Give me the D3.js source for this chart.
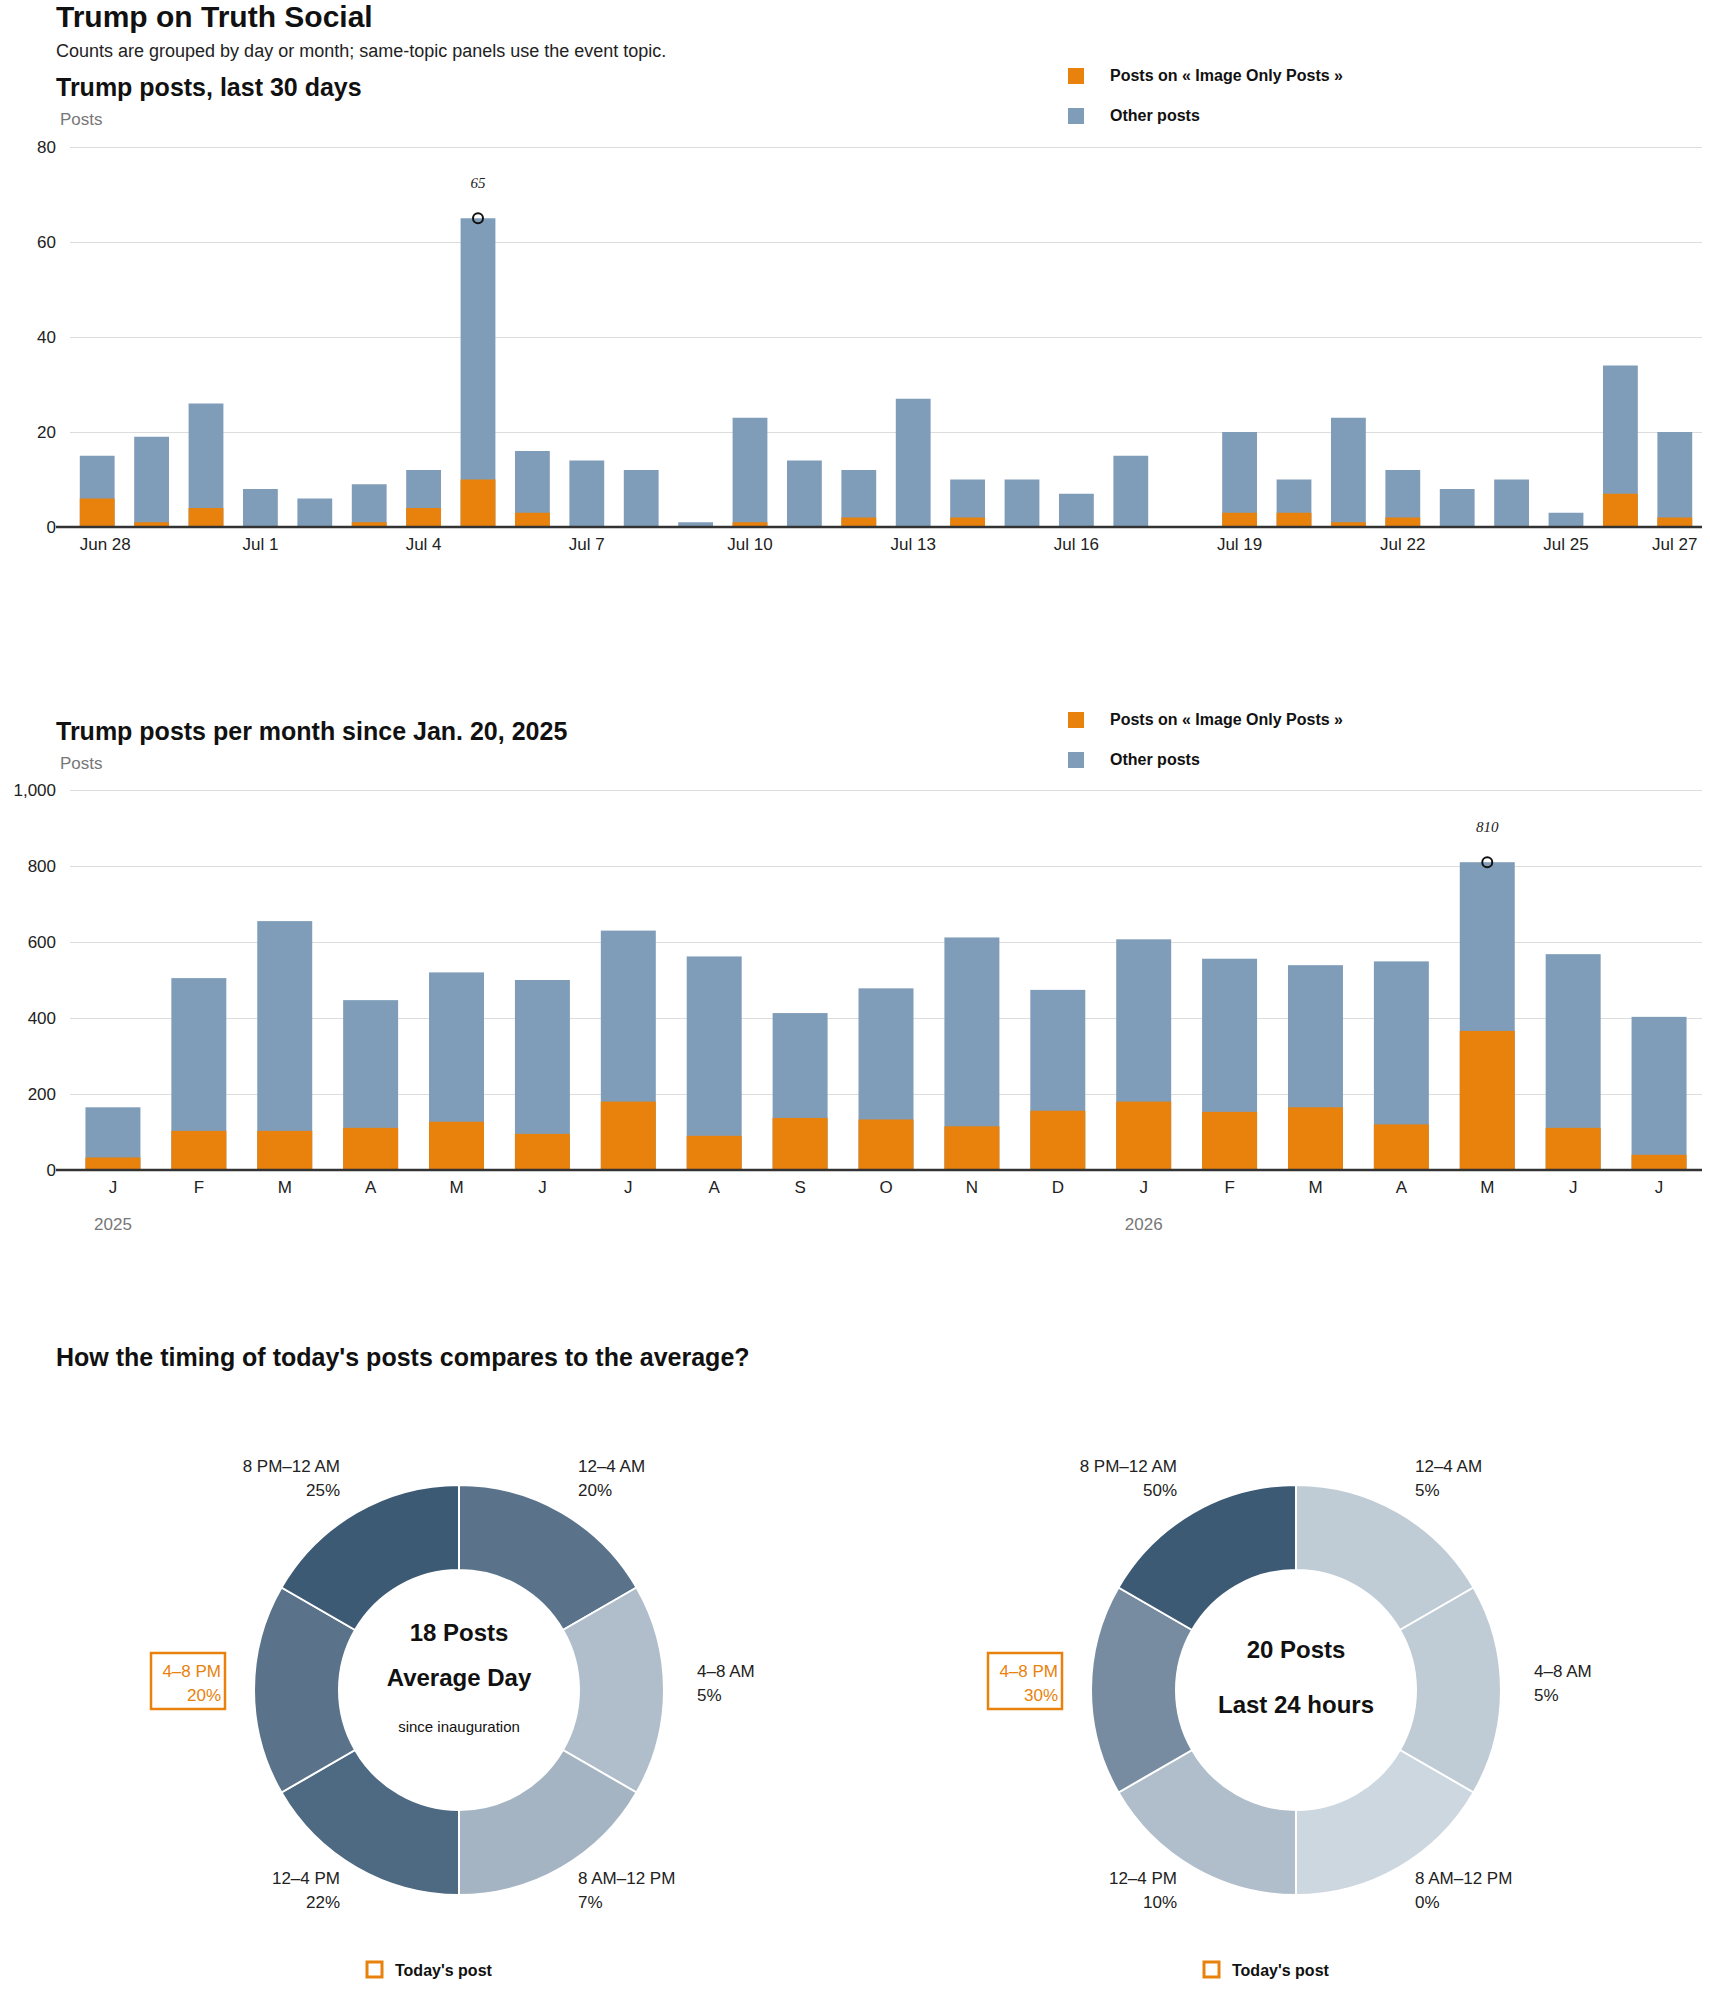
<!DOCTYPE html>
<html><head><meta charset="utf-8">
<script src="https://cdn.jsdelivr.net/npm/d3@7"></script>
<style>
body{margin:0;background:#fff;font-family:"Liberation Sans",Arial,sans-serif;}
</style></head>
<body><div id="chart"></div>
<script>
// Data
const dayLabels = ["Jun 28","Jun 29","Jun 30","Jul 1","Jul 2","Jul 3","Jul 4","Jul 5","Jul 6","Jul 7","Jul 8","Jul 9","Jul 10","Jul 11","Jul 12","Jul 13","Jul 14","Jul 15","Jul 16","Jul 17","Jul 18","Jul 19","Jul 20","Jul 21","Jul 22","Jul 23","Jul 24","Jul 25","Jul 26","Jul 27"]
const dayTotal = [15,19,26,8,6,9,12,65,16,14,12,1,23,14,12,27,10,10,7,15,0,20,10,23,12,8,10,3,34,20]
const dayTopic = [6,1,4,0,0,1,4,10,3,0,0,0,1,0,2,0,2,0,0,0,0,3,3,1,2,0,0,0,7,2]
const dayTicks = ["Jun 28","Jul 1","Jul 4","Jul 7","Jul 10","Jul 13","Jul 16","Jul 19","Jul 22","Jul 25","Jul 27"]

const monthLabels = ["J","F","M","A","M","J","J","A","S","O","N","D","J","F","M","A","M","J","J"]
const monthTotal = [165,505,655,447,520,500,630,562,413,478,612,474,607,556,539,549,810,568,403]
const monthTopic = [33,103,103,111,127,95,180,90,137,133,115,156,180,153,165,120,366,111,40]
const yearLabels = [[0,"2025"],[12,"2026"]]

const slots = ["12–4 AM","4–8 AM","8 AM–12 PM","12–4 PM","4–8 PM","8 PM–12 AM"]
const avgPct = [20,5,7,22,20,25]
const todayPct = [5,5,0,10,30,50]

const ORANGE = "#e8820c", BLUE = "#7f9db9"
const W = 1710, H = 1993
const svg = d3.select('#chart').append('svg').attr('width', W).attr('height', H)

svg.append('text').attr('x',56).attr('y',27).text('Trump on Truth Social')
  .style('font-size','30px').style('font-weight',900).attr('fill','#111')
svg.append('text').attr('x',56).attr('y',57).text('Counts are grouped by day or month; same-topic panels use the event topic.')
  .style('font-size','18px').attr('fill','#222')

function legend(y) {
  const g = svg.append('g').attr('transform',`translate(1068,${y})`)
  ;[[ORANGE,'Posts on « Image Only Posts »'],[BLUE,'Other posts']].forEach((d,i) => {
    g.append('rect').attr('x',0).attr('y',i*40-8).attr('width',16).attr('height',16).attr('fill',d[0])
    g.append('text').attr('x',42).attr('y',i*40+5).text(d[1]).style('font-size','16px').style('font-weight',700).attr('fill','#111')
  })
}

function barChart(opts) {
  const {labels,total,topic,top,bottom,yMax,yTicks,title,titleY,peak} = opts
  const left = 70, right = 1702
  svg.append('text').attr('x',56).attr('y',titleY).text(title).style('font-size','25px').style('font-weight',900).attr('fill','#111')
  svg.append('text').attr('x',60).attr('y',titleY+29).text('Posts').style('font-size','17px').attr('fill','#777')
  const x = d3.scaleBand().domain(d3.range(labels.length)).range([left,right]).paddingInner(0.36).paddingOuter(0.18)
  const y = d3.scaleLinear().domain([0,yMax]).range([bottom,top])
  const ga = svg.append('g').attr('transform',`translate(${left},0)`)
    .call(d3.axisLeft(y).tickValues(yTicks).tickSize(-(right-left)))
  ga.select('.domain').remove()
  ga.selectAll('line').attr('stroke','#ddd')
  ga.selectAll('text').attr('x',-14).style('font-size','17px').attr('fill','#222').style('font-family','Liberation Sans')
  const idx = d3.range(labels.length)
  svg.append('g').selectAll('rect').data(idx).join('rect')
    .attr('x',i=>x(i)).attr('width',x.bandwidth())
    .attr('y',i=>y(total[i])).attr('height',i=>y(0)-y(total[i])).attr('fill',BLUE)
  svg.append('g').selectAll('rect').data(idx).join('rect')
    .attr('x',i=>x(i)).attr('width',x.bandwidth())
    .attr('y',i=>y(topic[i])).attr('height',i=>y(0)-y(topic[i])).attr('fill',ORANGE)
  svg.append('line').attr('x1',left-14).attr('x2',right).attr('y1',y(0)).attr('y2',y(0)).attr('stroke','#333').attr('stroke-width',2.5)
  const pi = total.indexOf(d3.max(total))
  svg.append('circle').attr('cx',x(pi)+x.bandwidth()/2).attr('cy',y(total[pi])).attr('r',5)
    .attr('fill','none').attr('stroke','#111').attr('stroke-width',2)
  svg.append('text').attr('x',x(pi)+x.bandwidth()/2).attr('y',y(total[pi])-30).attr('text-anchor','middle')
    .text(total[pi]).style('font-size','15px').style('font-style','italic').style('font-family','Liberation Serif').attr('fill','#222')
  return {x,y}
}

// daily chart
const c1 = barChart({labels:dayLabels,total:dayTotal,topic:dayTopic,top:147,bottom:527,yMax:80,yTicks:[0,20,40,60,80],
  title:'Trump posts, last 30 days',titleY:96})
dayTicks.forEach(t => {
  const i = dayLabels.indexOf(t)
  svg.append('text').attr('x',c1.x(i)+c1.x.bandwidth()/2+(i===0?8:0)).attr('y',550).attr('text-anchor','middle')
    .text(t).style('font-size','17px').attr('fill','#222')
})
legend(76)

// monthly chart
const c2 = barChart({labels:monthLabels,total:monthTotal,topic:monthTopic,top:790,bottom:1170,yMax:1000,yTicks:[0,200,400,600,800,1000],
  title:'Trump posts per month since Jan. 20, 2025',titleY:740})
monthLabels.forEach((t,i) => {
  svg.append('text').attr('x',c2.x(i)+c2.x.bandwidth()/2).attr('y',1193).attr('text-anchor','middle')
    .text(t).style('font-size','17px').attr('fill','#222')
})
yearLabels.forEach(([i,t]) => {
  svg.append('text').attr('x',c2.x(i)+c2.x.bandwidth()/2).attr('y',1230).attr('text-anchor','middle')
    .text(t).style('font-size','17px').attr('fill','#777')
})
legend(720)

// donuts
svg.append('text').attr('x',56).attr('y',1366).text("How the timing of today's posts compares to the average?")
  .style('font-size','25px').style('font-weight',900).attr('fill','#111')

function donut(cx, pcts, lines, highlight) {
  const cy = 1690, R = 205, r = 120
  const g = svg.append('g').attr('transform',`translate(${cx},${cy})`)
  const col = d3.scaleLinear().domain([0,d3.max(pcts)]).range(['#cdd7e0','#3d5a75']).interpolate(d3.interpolateRgb)
  const pie = d3.pie().sort(null).value(() => 1)
  const arc = d3.arc().innerRadius(r).outerRadius(R)
  g.selectAll('path').data(pie(pcts)).join('path').attr('d',arc)
    .attr('fill',d=>col(d.data)).attr('stroke','#fff').attr('stroke-width',2)
  const pos = [[119,-218,'start'],[238,-13,'start'],[119,194,'start'],[-119,194,'end'],[-238,-13,'end'],[-119,-218,'end']]
  slots.forEach((s,i) => {
    const [lx,ly,anc] = pos[i]
    const hl = i === highlight
    const t = g.append('text').attr('text-anchor',anc).style('font-size','17px').attr('fill',hl?ORANGE:'#222')
    t.append('tspan').attr('x',lx).attr('y',ly).text(s)
    t.append('tspan').attr('x',lx).attr('y',ly+24).text(pcts[i]+'%')
    if (hl) g.append('rect').attr('x',lx-70).attr('y',ly-24).attr('width',74).attr('height',56)
      .attr('fill','none').attr('stroke',ORANGE).attr('stroke-width',2.5)
  })
  lines.forEach(([txt,dy,size,w]) => {
    g.append('text').attr('x',0).attr('y',dy).attr('text-anchor','middle').text(txt)
      .style('font-size',size+'px').style('font-weight',w).attr('fill','#111')
  })
  const lg = svg.append('g').attr('transform',`translate(${cx-50},1971)`)
  lg.append('rect').attr('x',-42).attr('y',-9).attr('width',15).attr('height',15).attr('fill','none').attr('stroke',ORANGE).attr('stroke-width',3)
  lg.append('text').attr('x',-14).attr('y',5).text("Today's post").style('font-size','16px').style('font-weight',700).attr('fill','#111')
}
donut(459, avgPct, [['18 Posts',-49,24,900],['Average Day',-4,24,900],['since inauguration',42,15,400]], 4)
donut(1296, todayPct, [['20 Posts',-32,24,900],['Last 24 hours',23,24,900]], 4)
</script></body></html>
